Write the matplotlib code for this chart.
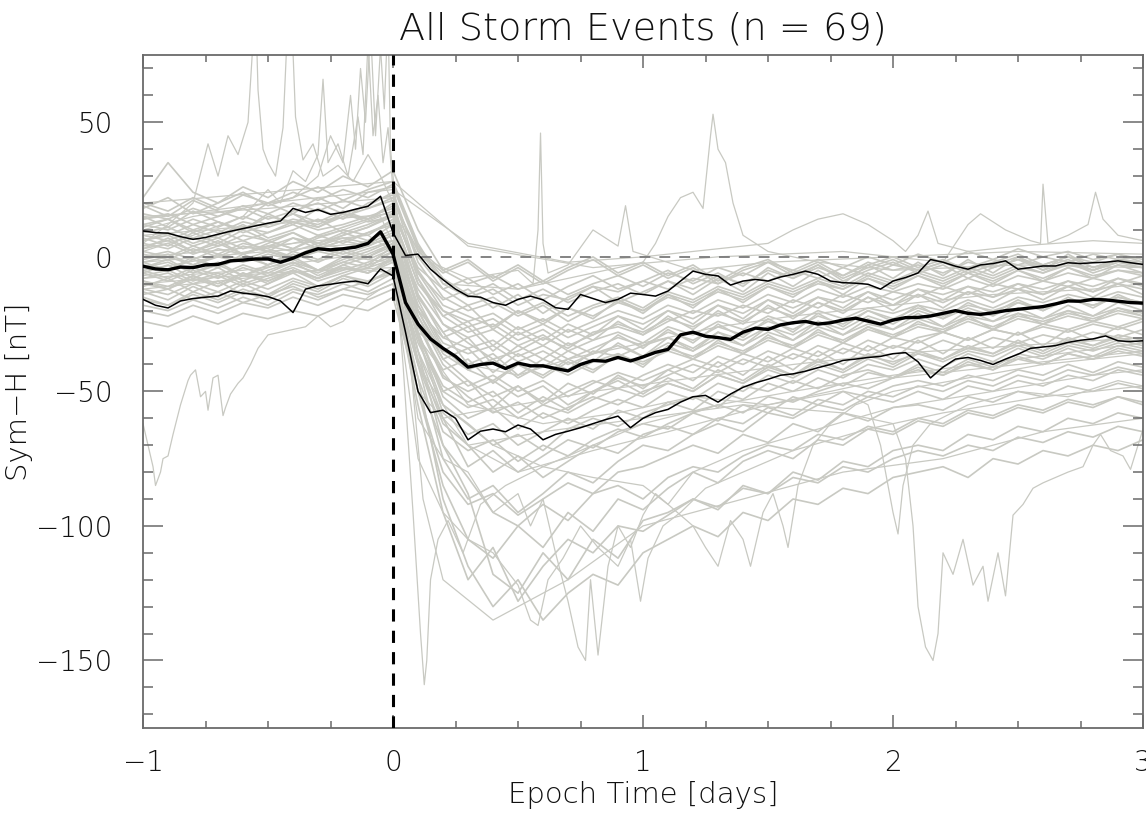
import numpy as np
import matplotlib
matplotlib.use("Agg")
import matplotlib.pyplot as plt
from matplotlib.ticker import MultipleLocator

plt.rcParams['font.family'] = ['DejaVu Sans']
plt.rcParams['font.weight'] = 200
plt.rcParams['axes.titleweight'] = 200
plt.rcParams['axes.labelweight'] = 200

# ---- statistics of the 69 events (0.05 day steps, -1 .. 3 days) ----
t_stat = np.round(np.arange(-1.0, 3.0001, 0.05), 2)

median = [-3.5, -4.5, -4.8, -3.8, -4.0, -3.0, -2.8, -1.5, -1.2, -0.8,
          -0.8, -2.0, -0.5, 1.5, 3.0, 2.6, 3.0, 3.6, 5.0, 9.3,
          1.0, -17, -25, -30.5, -34, -37, -41, -40, -39.5, -41.5,
          -39.5, -40.5, -40.5, -41.5, -42.4, -40, -38.5, -38.8, -37.4, -38.7,
          -37.2, -35.5, -34.4, -29, -28, -29.5, -30, -30.7, -28, -26.5,
          -27, -25.3, -24.5, -24, -25, -24.5, -23.5, -22.8, -23.9, -25,
          -23.5, -22.6, -22.5, -22, -21, -20, -21, -21.4, -20.8, -20,
          -19.5, -19, -18.5, -17.5, -16.4, -16.5, -15.8, -16, -16.5, -17, -17.2]

upper_q = [9.6, 9.0, 8.8, 7.5, 6.5, 7.2, 8.4, 9.5, 10.5, 11.5,
           12.5, 13.3, 18.0, 16.5, 17.5, 15.8, 16.5, 17.7, 18.8, 22.5,
           9.0, 0.5, 1.0, -4.6, -8.5, -12, -14.6, -15, -17, -18,
           -15.8, -14.6, -16, -18.9, -19.5, -14, -15.5, -17, -15.8, -13.5,
           -14, -14.6, -12.7, -9, -5.3, -6.5, -7.1, -10.5, -9, -8.4,
           -9, -7.5, -6.5, -5.3, -6.5, -9, -9.6, -9.8, -10.2, -12,
           -9, -7.7, -6, -1, -2, -3.5, -4.6, -3, -2.5, -1.5,
           -4.6, -4, -3.4, -3.4, -2.2, -2.5, -2.2, -2.0, -1.5, -2.2, -2.8]

lower_q = [-15.8, -18, -19, -16.4, -15.5, -15, -14.6, -12.7, -13.5, -14,
           -14.8, -16.4, -20.7, -12, -10.8, -10.2, -9.5, -9, -10, -4.5,
           -7.1, -28, -50, -57.9, -57, -60, -68, -64.8, -64, -65,
           -62.5, -64, -68, -66, -64.8, -63.5, -62, -60.5, -59.2, -63.5,
           -60, -57.9, -56.7, -54, -52, -51.5, -54, -51, -48.5, -46.8,
           -45.5, -44, -43.5, -42.5, -41.2, -40, -38.5, -38, -37.4, -37,
           -36, -35.6, -39, -45, -41, -38, -37.4, -38.5, -40, -38,
           -36.2, -34, -33.5, -33, -31.8, -31, -30.5, -29.4, -31.2, -31.5, -31.2]

# ---- individual events, 0.1 day steps ----
t_ev = np.round(np.arange(-1.0, 3.0001, 0.1), 2)

ev01 = [12, 14, 9, 13, 10, 15, 13, 11, 16, 14, 20, -8, -25, -32, -38, -35, -30, -34, -28, -26, -29, -24, -20, -22, -18, -21, -16, -19, -14, -17, -13, -15, -11, -14, -10, -12, -9, -11, -8, -10, -7]
ev02 = [-5, -8, -4, -7, -3, -6, -2, -5, 0, -3, 4, -30, -55, -62, -70, -66, -72, -64, -60, -63, -58, -55, -52, -56, -48, -50, -46, -49, -44, -42, -45, -40, -43, -38, -41, -36, -38, -34, -37, -33, -35]
ev03 = [3, 5, 1, 4, 6, 2, 7, 5, 9, 6, 12, -15, -28, -40, -36, -44, -38, -42, -35, -37, -33, -30, -34, -28, -31, -26, -29, -24, -27, -22, -25, -20, -23, -19, -22, -17, -20, -16, -18, -15, -17]
ev04 = [-15, -18, -13, -16, -12, -15, -10, -13, -8, -11, -6, -40, -75, -90, -85, -95, -88, -80, -84, -76, -70, -72, -66, -62, -65, -58, -60, -55, -57, -52, -54, -50, -53, -48, -50, -46, -48, -44, -46, -42, -44]
ev05 = [8, 6, 10, 7, 11, 9, 13, 10, 12, 15, 18, -5, -18, -22, -26, -20, -24, -19, -22, -17, -20, -15, -18, -13, -16, -11, -14, -10, -12, -8, -11, -7, -10, -6, -9, -5, -8, -4, -7, -5, -6]
ev06 = [-2, 0, -3, 1, -1, 2, 0, 3, 1, 4, 8, -25, -45, -50, -46, -52, -48, -55, -50, -45, -48, -44, -40, -43, -38, -41, -36, -39, -34, -37, -33, -35, -31, -34, -30, -32, -29, -31, -28, -30, -27]
ev07 = [18, 22, 16, 20, 24, 19, 22, 26, 21, 25, 28, 5, -10, -15, -12, -18, -14, -16, -11, -13, -9, -12, -8, -10, -6, -9, -5, -8, -4, -7, -3, -5, -2, -4, -1, -3, 0, -2, 1, -1, 0]
ev08 = [-10, -12, -8, -11, -7, -9, -5, -8, -4, -6, -2, -35, -60, -78, -72, -80, -74, -68, -71, -65, -62, -64, -58, -55, -58, -52, -54, -50, -47, -49, -45, -42, -44, -40, -42, -38, -40, -36, -38, -35, -37]
ev09 = [5, 3, 7, 4, 8, 6, 3, 7, 10, 8, 14, -20, -38, -46, -52, -48, -55, -50, -46, -49, -44, -40, -43, -37, -40, -35, -38, -33, -36, -31, -34, -30, -28, -31, -27, -29, -25, -27, -24, -26, -23]
ev10 = [-20, -22, -18, -21, -17, -19, -15, -18, -14, -16, -12, -45, -70, -82, -95, -100, -92, -98, -88, -85, -90, -82, -78, -80, -74, -70, -72, -66, -68, -63, -65, -60, -62, -57, -59, -55, -57, -53, -55, -52, -54]
ev11 = [0, 2, -1, 3, 1, 4, 2, 5, 3, 6, 10, -12, -25, -30, -27, -33, -29, -35, -31, -28, -32, -26, -29, -24, -27, -22, -25, -20, -23, -19, -21, -18, -20, -16, -19, -15, -17, -14, -16, -13, -15]
ev12 = [10, 8, 12, 9, 13, 11, 14, 12, 16, 13, 15, -10, -20, -26, -23, -29, -25, -30, -26, -22, -25, -20, -23, -18, -21, -16, -19, -15, -17, -13, -16, -12, -14, -11, -13, -10, -12, -9, -11, -8, -10]
ev13 = [-8, -6, -10, -7, -11, -8, -5, -9, -6, -3, 0, -30, -58, -66, -62, -70, -65, -60, -64, -57, -60, -54, -57, -50, -53, -47, -50, -45, -48, -43, -45, -41, -44, -39, -42, -37, -40, -36, -38, -34, -36]
ev14 = [14, 16, 12, 15, 18, 14, 17, 20, 16, 19, 24, -2, -15, -20, -17, -22, -18, -24, -19, -16, -20, -14, -17, -12, -15, -10, -13, -9, -12, -7, -10, -6, -9, -5, -8, -4, -6, -3, -5, -2, -4]
ev15 = [-12, -14, -10, -13, -9, -12, -8, -11, -7, -9, -5, -50, -85, -105, -112, -100, -108, -95, -102, -90, -94, -86, -80, -84, -76, -72, -75, -68, -70, -64, -66, -61, -63, -58, -60, -56, -58, -54, -56, -52, -55]
ev16 = [2, 0, 4, 1, 5, 3, 0, 4, 7, 5, 9, -18, -32, -36, -33, -39, -35, -40, -36, -33, -37, -32, -35, -30, -33, -28, -31, -26, -29, -25, -27, -23, -26, -22, -24, -21, -23, -20, -22, -19, -21]
ev17 = [-4, -2, -6, -3, -7, -4, -1, -5, -2, 1, 5, -22, -40, -48, -44, -50, -46, -52, -47, -43, -46, -42, -38, -41, -36, -39, -34, -37, -32, -35, -30, -32, -28, -31, -27, -29, -26, -28, -25, -27, -24]
ev18 = [22, 35, 24, 20, 26, 22, 28, 24, 30, 26, 32, 10, -5, -10, -7, -12, -9, -14, -10, -7, -11, -6, -9, -4, -7, -2, -5, -1, -4, 0, -3, 1, -2, 2, -1, 3, 0, 2, -1, 1, -2]
ev19 = [-16, -18, -14, -17, -13, -16, -12, -14, -10, -13, -8, -40, -65, -72, -68, -76, -70, -74, -68, -64, -67, -62, -58, -61, -55, -58, -52, -55, -50, -52, -48, -46, -48, -44, -46, -42, -44, -40, -43, -39, -41]
ev20 = [6, 8, 4, 7, 3, 6, 9, 5, 8, 11, 16, -14, -30, -34, -31, -37, -33, -38, -34, -30, -33, -28, -31, -26, -29, -24, -27, -22, -25, -20, -23, -19, -22, -18, -20, -17, -19, -16, -18, -15, -17]
ev21 = [-6, -9, -5, -8, -4, -7, -3, -6, -2, -4, 2, -35, -70, -88, -118, -125, -110, -120, -105, -112, -98, -95, -90, -94, -85, -88, -80, -83, -76, -78, -72, -70, -72, -66, -68, -63, -65, -60, -62, -58, -60]
ev22 = [12, 10, 14, 11, 15, 12, 16, 13, 17, 14, 19, -8, -22, -28, -25, -31, -27, -33, -29, -25, -28, -23, -26, -21, -24, -19, -22, -17, -20, -15, -18, -14, -17, -13, -15, -12, -14, -11, -13, -10, -12]
ev23 = [-1, 1, -3, 0, -2, 1, -1, 2, 0, 3, 6, -28, -52, -60, -56, -64, -58, -62, -57, -53, -56, -50, -53, -47, -50, -44, -47, -42, -45, -40, -42, -38, -41, -36, -39, -34, -37, -33, -35, -32, -34]
ev24 = [-24, -26, -22, -25, -21, -23, -20, -22, -18, -20, -15, -50, -80, -92, -88, -96, -90, -84, -88, -80, -78, -74, -70, -73, -66, -69, -62, -65, -58, -61, -56, -55, -57, -52, -54, -50, -52, -48, -50, -47, -49]
ev25 = [16, 14, 18, 15, 19, 16, 20, 17, 21, 18, 22, 0, -12, -18, -15, -21, -17, -22, -18, -15, -19, -13, -16, -11, -14, -9, -12, -8, -11, -6, -9, -5, -8, -4, -7, -3, -6, -2, -5, -1, -3]
ev26 = [-9, -11, -7, -10, -6, -9, -5, -8, -4, -6, -1, -38, -62, -70, -80, -74, -82, -76, -70, -73, -66, -63, -66, -60, -62, -56, -59, -53, -55, -50, -52, -48, -50, -46, -48, -44, -46, -42, -44, -41, -43]
ev27 = [4, 6, 2, 5, 1, 4, 7, 3, 6, 9, 13, -16, -34, -42, -38, -45, -40, -44, -39, -36, -40, -34, -37, -32, -35, -30, -33, -28, -31, -26, -29, -25, -27, -23, -26, -22, -24, -21, -23, -20, -22]
ev28 = [-14, -12, -16, -13, -17, -14, -11, -15, -12, -9, -6, -45, -90, -115, -130, -120, -135, -125, -118, -122, -110, -105, -100, -104, -95, -98, -90, -92, -86, -88, -82, -80, -78, -82, -75, -77, -72, -74, -70, -72, -68]
ev29 = [9, 11, 7, 10, 6, 9, 12, 8, 11, 14, 17, -6, -20, -24, -21, -27, -23, -28, -24, -20, -23, -18, -21, -16, -19, -14, -17, -12, -15, -11, -13, -10, -12, -8, -11, -7, -9, -6, -8, -5, -7]
ev30 = [-3, -5, -1, -4, 0, -3, 1, -2, 2, -1, 3, -24, -44, -52, -58, -54, -60, -56, -52, -55, -50, -47, -50, -44, -47, -41, -44, -39, -42, -37, -39, -36, -38, -34, -36, -32, -35, -31, -33, -30, -32]
ev31 = [20, 17, 22, 18, 23, 20, 24, 21, 25, 22, 27, 4, -8, -14, -10, -16, -12, -17, -13, -10, -14, -9, -12, -7, -10, -5, -8, -4, -7, -2, -5, -3, -6, -2, -4, -1, -3, 0, -2, 1, -1]
ev32 = [-18, -20, -16, -19, -15, -18, -13, -16, -12, -14, -10, -55, -95, -120, -108, -128, -115, -105, -110, -100, -102, -96, -90, -93, -86, -88, -82, -84, -78, -80, -75, -72, -74, -70, -72, -67, -69, -65, -67, -63, -65]
ev33 = [1, -1, 3, 0, 4, 2, -1, 3, 6, 4, 8, -20, -36, -42, -46, -40, -44, -38, -42, -37, -39, -35, -38, -33, -36, -31, -34, -29, -32, -27, -30, -26, -28, -24, -27, -23, -25, -22, -24, -21, -23]
ev34 = [-7, -5, -9, -6, -10, -7, -4, -8, -5, -2, 2, -28, -50, -56, -53, -60, -55, -58, -53, -49, -52, -47, -50, -44, -47, -42, -45, -40, -43, -38, -41, -36, -39, -35, -37, -33, -36, -32, -34, -31, -33]
ev35 = [6, 9, 5, 8, 12, 7, 10, 14, 9, 12, 16, -4, -12, -8, -14, -10, -16, -11, -7, -12, -9, -5, -10, -6, -11, -4, -8, -3, -9, -5, -2, -6, -3, -8, -4, -1, -5, -2, -6, -3, -4]
ev36 = [-11, -8, -13, -9, -14, -10, -6, -11, -7, -4, -1, -20, -30, -26, -35, -28, -33, -27, -31, -24, -29, -22, -27, -20, -25, -18, -23, -17, -21, -15, -20, -14, -19, -13, -17, -12, -16, -11, -15, -10, -14]
ev37 = [15, 11, 17, 13, 10, 16, 12, 18, 14, 20, 23, -6, -16, -12, -19, -14, -21, -15, -11, -17, -13, -9, -14, -8, -13, -6, -11, -5, -10, -3, -8, -2, -7, -1, -6, 0, -5, 1, -4, -1, -3]
ev38 = [-6, -3, -8, -4, -9, -5, -2, -7, -3, 0, 4, -26, -42, -38, -47, -40, -45, -39, -43, -36, -41, -33, -38, -31, -36, -29, -34, -27, -32, -26, -30, -24, -28, -22, -27, -21, -25, -20, -24, -19, -22]
ev39 = [3, 7, 2, 6, 1, 5, 9, 4, 8, 11, 15, -10, -22, -18, -27, -20, -25, -19, -23, -16, -21, -14, -19, -12, -17, -11, -15, -9, -14, -8, -12, -7, -11, -6, -10, -5, -9, -4, -8, -3, -6]
ev40 = [-13, -16, -11, -15, -10, -14, -9, -12, -7, -10, -4, -32, -50, -46, -56, -48, -54, -47, -51, -44, -49, -42, -46, -39, -44, -37, -42, -35, -40, -33, -38, -31, -36, -30, -34, -28, -33, -27, -31, -26, -29]
ev41 = [11, 14, 10, 13, 9, 12, 16, 11, 15, 18, 21, 2, -6, -2, -9, -4, -10, -5, -1, -7, -3, -8, -4, -10, -5, -2, -7, -3, -8, -4, -1, -5, -2, -6, -3, 0, -4, -1, -5, -2, -3]
ev42 = [-2, -5, 0, -4, 1, -3, 2, -1, 3, 0, 5, -18, -35, -30, -40, -33, -38, -32, -36, -29, -34, -27, -32, -25, -30, -23, -28, -21, -26, -20, -24, -18, -23, -17, -21, -16, -20, -15, -19, -14, -18]
ev43 = [7, 4, 9, 5, 10, 6, 3, 8, 5, 9, 12, -14, -28, -24, -33, -26, -31, -25, -29, -22, -27, -20, -25, -18, -23, -16, -21, -15, -19, -13, -18, -12, -16, -11, -15, -10, -14, -9, -13, -8, -11]
ev44 = [-9, -12, -7, -11, -6, -10, -5, -8, -3, -6, 0, -30, -48, -54, -50, -58, -52, -57, -50, -46, -51, -45, -49, -42, -46, -40, -44, -38, -42, -36, -40, -35, -38, -33, -36, -31, -35, -30, -33, -29, -31]
ev45 = [19, 15, 21, 17, 14, 20, 16, 22, 18, 24, 26, 3, -5, -1, -8, -3, -9, -4, 0, -6, -2, -7, -3, -9, -4, -1, -6, -2, -7, -3, 0, -4, -1, -5, -2, 1, -3, 0, -4, -1, -2]
ev46 = [-4, -1, -6, -2, -7, -3, 0, -5, -1, 2, 6, -22, -38, -34, -43, -36, -41, -35, -39, -32, -37, -30, -35, -28, -33, -26, -31, -24, -29, -23, -27, -21, -26, -20, -24, -19, -23, -18, -22, -17, -20]

core_events = [ev01, ev02, ev03, ev04, ev05, ev06, ev07, ev08, ev09, ev10, ev11, ev12,
               ev13, ev14, ev15, ev16, ev17, ev18, ev19, ev20, ev21, ev22, ev23, ev24,
               ev25, ev26, ev27, ev28, ev29, ev30, ev31, ev32, ev33, ev34, ev35, ev36,
               ev37, ev38, ev39, ev40, ev41, ev42, ev43, ev44, ev45, ev46]

# ---- events with sharp excursions (own time samples) ----
low_pre_t = [-1.0, -0.98, -0.96, -0.95, -0.93, -0.92, -0.9, -0.88, -0.85, -0.82, -0.81, -0.79, -0.77, -0.75, -0.74, -0.72, -0.70, -0.68, -0.67, -0.65, -0.62, -0.6, -0.57, -0.54, -0.5, -0.45, -0.4, -0.35, -0.3, -0.25, -0.2, -0.15, -0.1, -0.05, 0.0, 0.05, 0.1, 0.2, 0.3, 0.5, 0.8, 1.2, 1.6, 2.0, 2.5, 3.0]
low_pre_v = [-62, -70, -78, -85, -80, -75, -74, -66, -55, -46, -44, -42, -52, -50, -57, -45, -44, -59, -56, -51, -47, -45, -40, -34, -29, -28, -27, -26, -22, -26, -24, -19, -15, -12, -10, -30, -50, -60, -58, -55, -50, -45, -40, -36, -33, -30]

spike_a_t = [-1.0, -0.9, -0.8, -0.74, -0.70, -0.66, -0.62, -0.58, -0.56, -0.55, -0.54, -0.52, -0.50, -0.47, -0.44, -0.42, -0.41, -0.39, -0.36, -0.32, -0.28, -0.22, -0.16, -0.1, -0.05, 0.0, 0.05, 0.1, 0.2, 0.3, 0.5, 0.7, 1.0, 1.3, 1.6, 2.0, 2.4, 2.8, 3.0]
spike_a_v = [5, 12, 20, 42, 30, 45, 38, 50, 80, 95, 62, 40, 35, 30, 48, 90, 100, 52, 36, 42, 30, 34, 28, 38, 30, 20, -10, -28, -35, -40, -44, -38, -32, -26, -22, -18, -14, -12, -10]

spike_b_t = [-1.0, -0.8, -0.6, -0.4, -0.3, -0.25, -0.2, -0.17, -0.15, -0.13, -0.11, -0.09, -0.07, -0.05, -0.035, -0.02, -0.01, 0.0, 0.03, 0.06, 0.1, 0.2, 0.3, 0.5, 0.8, 1.1, 1.5, 2.0, 2.5, 3.0]
spike_b_v = [10, 15, 18, 22, 30, 45, 35, 60, 40, 70, 50, 85, 45, 78, 55, 90, 40, 30, 5, -20, -40, -60, -70, -80, -72, -65, -55, -45, -40, -35]

spike_c_t = [-1.0, -0.8, -0.6, -0.5, -0.45, -0.4, -0.35, -0.3, -0.28, -0.26, -0.22, -0.18, -0.14, -0.12, -0.1, -0.08, -0.06, -0.04, -0.02, 0.0, 0.04, 0.08, 0.12, 0.2, 0.4, 0.7, 1.0, 1.4, 1.8, 2.2, 2.6, 3.0]
spike_c_v = [2, 8, 15, 25, 20, 32, 28, 38, 66, 35, 42, 30, 52, 38, 80, 45, 60, 35, 48, 25, -10, -50, -90, -120, -135, -120, -100, -90, -80, -75, -65, -60]

deep_a_t = [-1.0, -0.7, -0.4, -0.2, -0.05, 0.0, 0.04, 0.08, 0.11, 0.125, 0.135, 0.15, 0.18, 0.22, 0.28, 0.35, 0.45, 0.6, 0.8, 1.0, 1.3, 1.6, 2.0, 2.5, 3.0]
deep_a_v = [-5, 0, 5, 10, 15, 5, -40, -95, -140, -159, -150, -120, -105, -98, -110, -92, -85, -78, -70, -62, -55, -50, -44, -38, -32]

deep_b_t = [-1.0, -0.5, -0.1, 0.0, 0.05, 0.1, 0.2, 0.3, 0.4, 0.5, 0.55, 0.6, 0.65, 0.7, 0.74, 0.77, 0.79, 0.82, 0.86, 0.9, 0.95, 1.0, 1.05, 1.1, 1.2, 1.4, 1.7, 2.0, 2.4, 2.8, 3.0]
deep_b_v = [0, 4, 8, 2, -30, -60, -75, -80, -95, -88, -100, -90, -110, -128, -145, -150, -120, -148, -115, -100, -108, -96, -88, -92, -80, -72, -64, -56, -50, -44, -42]

deep_c_t = [-1.0, -0.6, -0.2, 0.0, 0.05, 0.1, 0.2, 0.3, 0.4, 0.5, 0.55, 0.58, 0.62, 0.68, 0.75, 0.82, 0.9, 0.95, 0.99, 1.02, 1.08, 1.15, 1.25, 1.4, 1.6, 1.9, 2.2, 2.6, 3.0]
deep_c_v = [-12, -8, -4, -6, -40, -75, -95, -105, -110, -122, -135, -137, -120, -112, -100, -108, -115, -105, -128, -112, -100, -95, -86, -80, -72, -64, -58, -52, -48]

deep_d_t = [-1.0, -0.6, -0.2, 0.0, 0.1, 0.2, 0.4, 0.6, 0.8, 1.0, 1.1, 1.2, 1.25, 1.3, 1.35, 1.4, 1.43, 1.48, 1.52, 1.56, 1.58, 1.62, 1.68, 1.75, 1.85, 2.0, 2.3, 2.6, 3.0]
deep_d_v = [-8, -5, 0, -2, -35, -55, -70, -78, -82, -85, -92, -100, -108, -115, -98, -105, -115, -95, -88, -100, -108, -85, -70, -62, -55, -50, -45, -40, -36]

late_a_t = [-1.0, -0.5, 0.0, 0.1, 0.3, 0.6, 1.0, 1.4, 1.8, 2.0, 2.05, 2.08, 2.1, 2.13, 2.16, 2.18, 2.2, 2.24, 2.28, 2.32, 2.36, 2.38, 2.42, 2.45, 2.48, 2.52, 2.56, 2.6, 2.65, 2.7, 2.76, 2.8, 2.83, 2.87, 2.92, 2.95, 2.98, 3.0]
late_a_v = [-10, -6, -4, -40, -70, -65, -60, -55, -58, -62, -75, -100, -130, -145, -150, -140, -110, -118, -105, -122, -115, -128, -110, -126, -96, -92, -86, -84, -82, -80, -78, -70, -66, -72, -74, -79, -70, -64]

late_b_t = [-1.0, -0.5, 0.0, 0.1, 0.3, 0.6, 0.9, 1.2, 1.5, 1.8, 1.9, 1.95, 2.0, 2.02, 2.04, 2.08, 2.15, 2.3, 2.5, 2.7, 2.9, 3.0]
late_b_v = [-2, 2, 6, -30, -55, -62, -58, -52, -55, -50, -55, -70, -95, -103, -85, -70, -62, -55, -50, -52, -46, -48]

high_a_t = [-1.0, -0.5, 0.0, 0.1, 0.3, 0.5, 0.56, 0.58, 0.59, 0.60, 0.62, 0.7, 0.8, 0.9, 0.93, 0.96, 1.2, 1.5, 2.0, 2.5, 3.0]
high_a_v = [15, 18, 22, 0, -8, -5, -10, 10, 46, 5, -6, -3, 10, 4, 19, 2, -5, -2, 0, 2, 1]

high_b_t = [-1.0, -0.5, 0.0, 0.2, 0.5, 0.8, 1.0, 1.05, 1.1, 1.15, 1.2, 1.24, 1.27, 1.28, 1.3, 1.33, 1.36, 1.4, 1.5, 1.7, 2.0, 2.5, 3.0]
high_b_v = [8, 12, 16, -10, -12, -6, -2, 5, 15, 22, 24, 18, 45, 53, 40, 35, 20, 8, 2, -2, -5, -3, -4]

high_c_t = [-1.0, -0.5, 0.0, 0.3, 0.7, 1.0, 1.3, 1.5, 1.6, 1.7, 1.8, 1.9, 2.0, 2.05, 2.1, 2.14, 2.18, 2.3, 2.5, 2.8, 3.0]
high_c_v = [14, 20, 25, 5, -2, 0, 3, 5, 10, 14, 16, 12, 6, 2, 8, 17, 5, 2, 4, 6, 5]

high_d_t = [-1.0, -0.5, 0.0, 0.3, 0.8, 1.3, 1.8, 2.2, 2.3, 2.35, 2.45, 2.55, 2.59, 2.6, 2.62, 2.7, 2.78, 2.81, 2.84, 2.9, 3.0]
high_d_v = [20, 24, 28, 4, -4, 0, 2, -2, 12, 16, 10, 6, 5, 27, 5, 8, 12, 24, 14, 8, 6]

extra_events = [(low_pre_t, low_pre_v), (spike_a_t, spike_a_v), (spike_b_t, spike_b_v),
                (spike_c_t, spike_c_v), (deep_a_t, deep_a_v), (deep_b_t, deep_b_v),
                (deep_c_t, deep_c_v), (deep_d_t, deep_d_v), (late_a_t, late_a_v),
                (late_b_t, late_b_v), (high_a_t, high_a_v), (high_b_t, high_b_v),
                (high_c_t, high_c_v), (high_d_t, high_d_v)]

gray = '#c8c9c2'
txt = '#111111'

fig = plt.figure(figsize=(11.46, 8.14), dpi=100)
ax = fig.add_axes([0.1248, 0.106, 0.8726, 0.8264])

for ev in core_events:
    ax.plot(t_ev, ev, color=gray, lw=1.2, zorder=1)
for tt, vv in extra_events:
    ax.plot(tt, vv, color=gray, lw=0.9, zorder=1)

ax.axhline(0, color='#7a7a7a', lw=1.3, ls=(0, (6, 5)), zorder=2)
ax.plot(t_stat, upper_q, color='black', lw=1.1, zorder=3)
ax.plot(t_stat, lower_q, color='black', lw=1.1, zorder=3)
ax.plot(t_stat, median, color='black', lw=2.4, zorder=4)
ax.axvline(0, color='black', lw=2.2, ls=(0, (4, 3)), zorder=5)

ax.set_xlim(-1, 3)
ax.set_ylim(-175, 75)
ax.xaxis.set_major_locator(MultipleLocator(1))
ax.xaxis.set_minor_locator(MultipleLocator(0.25))
ax.yaxis.set_major_locator(MultipleLocator(50))
ax.yaxis.set_minor_locator(MultipleLocator(10))

ax.tick_params(axis='both', which='both', direction='in', top=True, right=True,
               color='#6a6a6a', width=1.1)
ax.tick_params(axis='both', which='major', labelsize=20, labelcolor=txt)
ax.tick_params(axis='x', which='major', length=9.5, pad=15)
ax.tick_params(axis='x', which='minor', length=5)
ax.tick_params(axis='y', which='major', length=14.5, pad=22)
ax.tick_params(axis='y', which='minor', length=7.2)
for s in ax.spines.values():
    s.set_color('#6a6a6a')
    s.set_linewidth(1.3)

ax.set_title('All Storm Events (n = 69)', fontsize=27.5, color=txt, pad=11)
ax.set_xlabel('Epoch Time [days]', fontsize=21, color=txt, labelpad=3)
ax.set_ylabel('Sym−H [nT]', fontsize=21, color=txt, labelpad=2)

fig.savefig('out.png', dpi=100)
